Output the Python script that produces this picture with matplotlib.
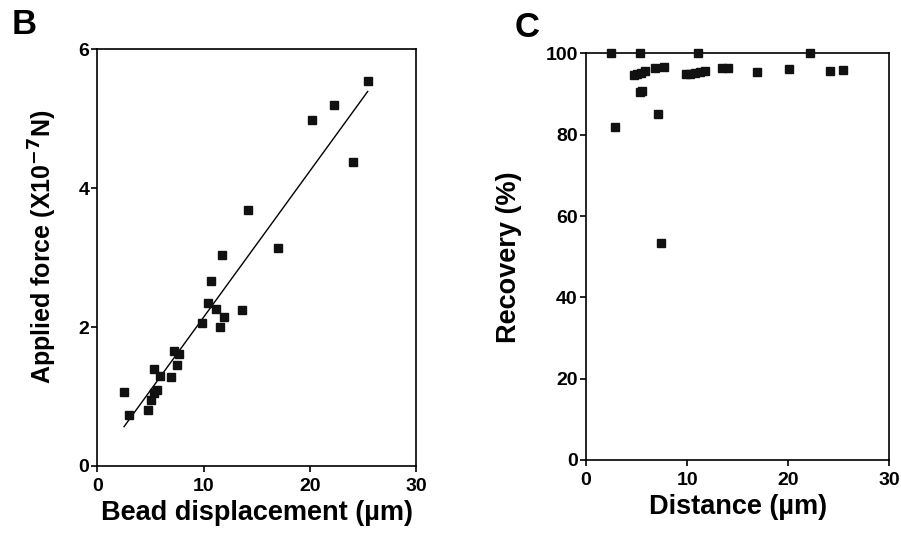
import numpy as np
import matplotlib
matplotlib.use("Agg")
import matplotlib.pyplot as plt

plt.rcParams['font.family'] = ['Liberation Sans', 'DejaVu Sans']
plt.rcParams['font.weight'] = 'bold'
plt.rcParams['mathtext.default'] = 'bf'

# panel B: bead displacement (um) vs applied force (x1e-7 N)
disp_um = [2.5, 2.95, 4.75, 5.0, 5.3, 5.35, 5.6, 5.85, 6.95, 7.2, 7.45, 7.65,
           9.85, 10.4, 10.65, 11.2, 11.5, 11.7, 11.95, 13.6, 14.15, 17.0,
           20.2, 22.3, 24.1, 25.45]
force = [1.06, 0.73, 0.80, 0.95, 1.39, 1.05, 1.10, 1.29, 1.28, 1.65, 1.45, 1.61,
         2.06, 2.35, 2.67, 2.26, 2.00, 3.04, 2.15, 2.25, 3.68, 3.14,
         4.98, 5.19, 4.38, 5.54]

# panel C: distance (um) vs recovery (%)
dist_um = [2.45, 5.3, 11.1, 22.2, 2.85, 4.7, 5.0, 5.4, 5.85, 5.35, 5.55, 6.85,
           7.7, 7.1, 7.4, 9.85, 10.3, 10.8, 11.3, 11.8, 13.5, 14.0, 16.9,
           20.1, 24.1, 25.4]
recovery = [100.0, 100.0, 100.0, 100.0, 81.8, 94.7, 95.0, 95.3, 95.6, 90.4, 90.7, 96.3,
            96.7, 85.2, 53.3, 94.9, 95.0, 95.2, 95.5, 95.7, 96.3, 96.3, 95.4,
            96.1, 95.6, 95.9]

fig = plt.figure(figsize=(9.01, 5.35), dpi=100)
axB = fig.add_axes([0.1082, 0.129, 0.3535, 0.779])
axC = fig.add_axes([0.6504, 0.1402, 0.3366, 0.760])

mk = dict(marker='s', ms=5.5, color='#111111', ls='none', clip_on=False, zorder=5)

axB.plot(disp_um, force, **mk)
slope, icpt = np.polyfit(disp_um, force, 1)
xl = np.array([min(disp_um), max(disp_um)])
axB.plot(xl, slope * xl + icpt, color='black', lw=1.0)
axB.set_xlim(0, 30)
axB.set_ylim(0, 6)
axB.set_xticks([0, 10, 20, 30])
axB.set_yticks([0, 2, 4, 6])
axB.set_xlabel('Bead displacement (µm)', fontsize=19.5, fontweight='bold', labelpad=3)
axB.set_ylabel('Applied force (X10$^{-7}$N)', fontsize=18, fontweight='bold')
axB.yaxis.set_label_coords(-0.12, 0.525)

axC.plot(dist_um, recovery, **mk)
axC.set_xlim(0, 30)
axC.set_ylim(0, 100)
axC.set_xticks([0, 10, 20, 30])
axC.set_yticks([0, 20, 40, 60, 80, 100])
axC.set_xlabel('Distance (µm)', fontsize=19.5, fontweight='bold', labelpad=3)
axC.set_ylabel('Recovery (%)', fontsize=19.5, fontweight='bold', labelpad=17)

for ax in (axB, axC):
    for s in ax.spines.values():
        s.set_linewidth(1.2)
    ax.tick_params(direction='out', length=4, width=1.2, labelsize=14, pad=2)
    ax.tick_params(axis='x', pad=5)
    for lab in ax.get_xticklabels() + ax.get_yticklabels():
        lab.set_fontweight('bold')

fig.text(0.013, 0.985, 'B', fontsize=25, fontweight='bold', va='top', ha='left')
fig.text(0.571, 0.98, 'C', fontsize=25, fontweight='bold', va='top', ha='left')

fig.savefig('out.png', dpi=100)
